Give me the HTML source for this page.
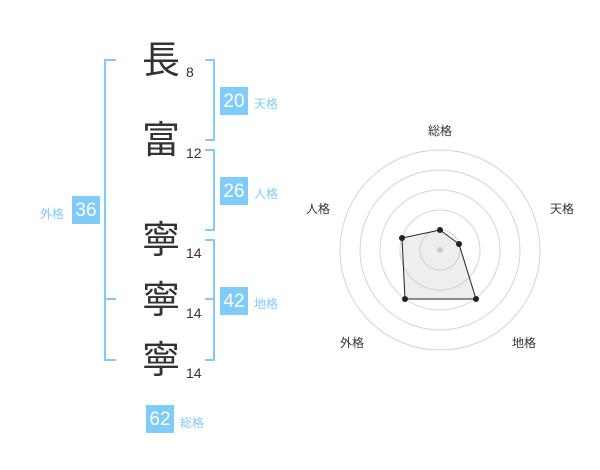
<!DOCTYPE html>
<html><head><meta charset="utf-8"><style>
body{margin:0;width:600px;height:470px;background:#fff;position:relative;font-family:"Liberation Sans","Noto Sans CJK JP",sans-serif;overflow:hidden}
.k{position:absolute;left:141px;font-size:38px;line-height:38px;color:#333;width:40px;text-align:center}
.n{position:absolute;left:186px;font-size:14px;color:#333}
.b{position:absolute;background:#7fccf8;color:#fff;font-size:19px;width:28px;height:28px;line-height:30px;text-align:center}
.l{position:absolute;color:#7fccf8;font-size:12px}
.r{position:absolute;font-size:12px;color:#333}
</style></head><body>
<svg width="600" height="470" style="position:absolute;left:0;top:0">
<g fill="none" stroke="#7fccf8" stroke-width="2">
<path d="M116 60H105V360H116M105 299H116"/>
<path d="M205 60H214V140H205"/>
<path d="M205 150H214V230H205"/>
<path d="M205 240H214V360H205M205 299H214"/>
</g>
<g fill="none" stroke="#d4d4d4" stroke-width="1">
<circle cx="440" cy="250" r="100"/><circle cx="440" cy="250" r="80"/><circle cx="440" cy="250" r="60"/><circle cx="440" cy="250" r="40"/><circle cx="440" cy="250" r="20"/>
</g>
<circle cx="440" cy="250" r="3" fill="#ccc"/>
<polygon points="440,230 459,244 476,299 405,299 402,238" fill="rgba(200,200,200,0.3)" stroke="#222" stroke-width="1"/>
<g fill="#222"><circle cx="440" cy="230" r="3"/><circle cx="459" cy="244" r="3"/><circle cx="476" cy="299" r="3"/><circle cx="405" cy="299" r="3"/><circle cx="402" cy="238" r="3"/></g>
</svg>
<div class="k" style="top:42px">長</div><div class="n" style="top:64px">8</div>
<div class="k" style="top:122px">富</div><div class="n" style="top:145px">12</div>
<div class="k" style="top:222px">寧</div><div class="n" style="top:245px">14</div>
<div class="k" style="top:282px">寧</div><div class="n" style="top:305px">14</div>
<div class="k" style="top:342px">寧</div><div class="n" style="top:365px">14</div>
<div class="b" style="left:220px;top:87px">20</div><div class="l" style="left:254px;top:95px">天格</div>
<div class="b" style="left:220px;top:177px">26</div><div class="l" style="left:254px;top:185px">人格</div>
<div class="b" style="left:220px;top:287px">42</div><div class="l" style="left:254px;top:295px">地格</div>
<div class="b" style="left:72px;top:196px">36</div><div class="l" style="left:40px;top:205px">外格</div>
<div class="b" style="left:146px;top:405px">62</div><div class="l" style="left:180px;top:414px">総格</div>
<div class="r" style="left:428px;top:122px">総格</div>
<div class="r" style="left:550px;top:200px">天格</div>
<div class="r" style="left:306px;top:200px">人格</div>
<div class="r" style="left:340px;top:334px">外格</div>
<div class="r" style="left:512px;top:334px">地格</div>
</body></html>
